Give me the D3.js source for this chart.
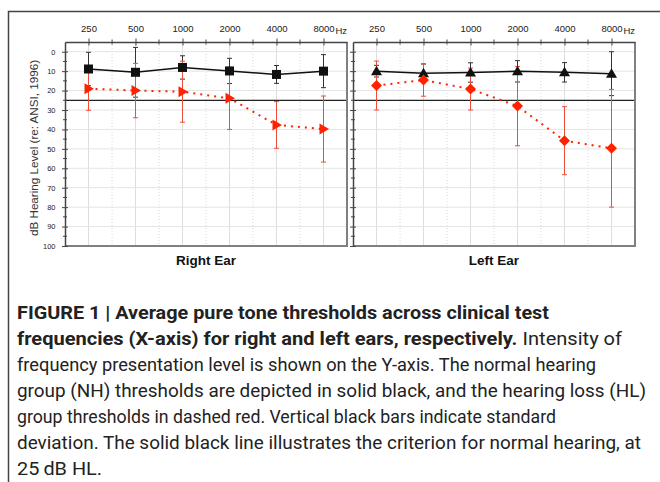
<!DOCTYPE html>
<html>
<head>
<meta charset="utf-8">
<script src="https://cdn.jsdelivr.net/npm/d3@7"></script>
<style>
  html, body { margin: 0; padding: 0; background: #fff; }
  svg { display: block; font-family: "Liberation Sans", Arial, sans-serif; }
</style>
</head>
<body>
<div id="graph"></div>
<script>
// test frequencies (Hz) and dB HL
const freqs = [250, 500, 1000, 2000, 4000, 8000];
const halfOctaves = [354, 707, 1414, 2828, 5657];
const dbTicks = [0, 10, 20, 30, 40, 50, 60, 70, 80, 90, 100];
const dbMinor = [5, 15, 25, 35, 45, 55, 65, 75, 85, 95];
const criterion = 25;

const rightNH = [8.9, 10.6, 8.1, 9.9, 11.7, 10.0];
const rightNHsd = [8.6, 12.8, 6.0, 6.5, 4.6, 8.5];
const rightHL = [19.0, 20.0, 20.6, 24.0, 37.7, 39.8];
const rightHLsd = [11.2, 14.0, 15.7, 16.0, 12.0, 17.0];

const leftNH = [10.0, 11.1, 10.7, 10.1, 10.6, 11.3];
const leftNHsd = [3.0, 4.8, 5.0, 5.5, 5.0, 11.3];
const leftHL = [17.4, 14.6, 19.2, 28.0, 45.8, 49.7];
const leftHLsd = [12.6, 8.3, 10.8, 20.4, 17.5, 30.3];

// caption: each line is a list of [text, bold] segments, plus the line's width
const captionLines = [
  [["FIGURE 1 | Average pure tone thresholds across clinical test", true]],
  [["frequencies (X-axis) for right and left ears, respectively.", true], ["Intensity of", false]],
  [["frequency presentation level is shown on the Y-axis. The normal hearing", false]],
  [["group (NH) thresholds are depicted in solid black, and the hearing loss (HL)", false]],
  [["group thresholds in dashed red. Vertical black bars indicate standard", false]],
  [["deviation. The solid black line illustrates the criterion for normal hearing, at", false]],
  [["25\u2009dB HL.", false]]
];
const captionWidths = [532, 605, 579, 629, 539, 624, 85];

const W = 660, H = 482;
const red = '#ff2200', redBar = '#e8503a', black = '#111';
const axisFont = '"Liberation Sans", Arial, sans-serif';

const svg = d3.select('#graph').append('svg')
  .attr('width', W).attr('height', H);

// outer figure frame (open to the right and bottom)
svg.append('path')
  .attr('d', `M8.5,${H} V11.5 H${W}`)
  .attr('fill', 'none').attr('stroke', '#444').attr('stroke-width', 1.5);

const y = d3.scaleLinear().domain([-5, 100]).range([42, 246]);

const panels = [
  { name: 'Right Ear', x0: 65, x1: 347, nh: rightNH, nhsd: rightNHsd, hl: rightHL, hlsd: rightHLsd, nhShape: 'square', hlShape: 'tri-right', yLabels: true },
  { name: 'Left Ear', x0: 353, x1: 635, nh: leftNH, nhsd: leftNHsd, hl: leftHL, hlsd: leftHLsd, nhShape: 'tri-up', hlShape: 'diamond', yLabels: false }
];

function markerPath(shape) {
  if (shape === 'square') return 'M-4.5,-4.5H4.5V4.5H-4.5Z';
  if (shape === 'tri-up') return 'M0,-5.5L5.5,4L-5.5,4Z';
  if (shape === 'tri-right') return 'M5.5,0L-4,-5.5L-4,5.5Z';
  return 'M0,-5.5L5.5,0L0,5.5L-5.5,0Z';
}

panels.forEach(p => {
  const x = d3.scaleLog().base(2)
    .domain([250 / Math.SQRT2, 8000 * Math.SQRT2])
    .range([p.x0, p.x1]);
  const g = svg.append('g');

  // grid
  g.selectAll('.vgrid').data(freqs).join('line')
    .attr('x1', d => x(d)).attr('x2', d => x(d))
    .attr('y1', y.range()[0]).attr('y2', y.range()[1])
    .attr('stroke', '#dedede').attr('stroke-width', 1);
  g.selectAll('.vminor').data(halfOctaves).join('line')
    .attr('x1', d => x(d)).attr('x2', d => x(d))
    .attr('y1', y.range()[0]).attr('y2', y.range()[1])
    .attr('stroke', '#d8d8d8').attr('stroke-width', 1)
    .attr('stroke-dasharray', '1,2');
  g.selectAll('.hgrid').data(dbTicks).join('line')
    .attr('x1', p.x0).attr('x2', p.x1)
    .attr('y1', d => y(d)).attr('y2', d => y(d))
    .attr('stroke', '#e4e4e4').attr('stroke-width', 1);

  // criterion line
  g.append('line')
    .attr('x1', p.x0).attr('x2', p.x1)
    .attr('y1', y(criterion)).attr('y2', y(criterion))
    .attr('stroke', '#222').attr('stroke-width', 1.2);

  // right / bottom border
  g.append('path')
    .attr('d', `M${p.x1},${y.range()[0]} V${y.range()[1]} H${p.x0}`)
    .attr('fill', 'none').attr('stroke', '#808080').attr('stroke-width', 2);

  // top axis
  const xAxis = g.append('g')
    .attr('transform', `translate(0,${y.range()[0]})`)
    .call(d3.axisTop(x).tickValues(freqs).tickFormat(d3.format('d')).tickSizeOuter(0).tickPadding(4))
    .attr('font-family', axisFont);
  xAxis.select('.domain').attr('stroke', '#444').attr('stroke-width', 1.5);
  xAxis.selectAll('.tick line').attr('y1', -3.5).attr('y2', 3.5).attr('stroke', '#444');
  xAxis.selectAll('.tick text').attr('font-size', 9.5).attr('fill', '#222');
  g.selectAll('.xminor').data(halfOctaves).join('line')
    .attr('x1', d => x(d)).attr('x2', d => x(d))
    .attr('y1', y.range()[0] - 2.5).attr('y2', y.range()[0] + 2.5)
    .attr('stroke', '#444');
  g.append('text')
    .attr('x', x(8000) + 12).attr('y', 34)
    .attr('font-size', 9.5).attr('fill', '#222')
    .text('Hz');

  // left axis
  const yAxis = g.append('g')
    .attr('transform', `translate(${p.x0},0)`)
    .call(d3.axisLeft(y).tickValues(dbTicks).tickSizeOuter(0).tickPadding(3.5)
      .tickFormat(p.yLabels ? d3.format('d') : ''))
    .attr('font-family', axisFont);
  yAxis.select('.domain').attr('stroke', '#444').attr('stroke-width', 1.5);
  yAxis.selectAll('.tick line').attr('x1', -3).attr('x2', 3).attr('stroke', '#444');
  yAxis.selectAll('.tick text').attr('font-size', 7.5).attr('fill', '#222');
  g.selectAll('.yminor').data(dbMinor).join('line')
    .attr('x1', p.x0 - 2).attr('x2', p.x0 + 2)
    .attr('y1', d => y(d)).attr('y2', d => y(d))
    .attr('stroke', '#444');

  // error bars
  function bars(vals, sds, color, width) {
    const b = g.append('g').attr('stroke', color).attr('stroke-width', width);
    freqs.forEach((f, i) => {
      const cx = x(f), lo = y(vals[i] - sds[i]), hi = y(vals[i] + sds[i]);
      b.append('line').attr('x1', cx).attr('x2', cx).attr('y1', lo).attr('y2', hi);
      b.append('line').attr('x1', cx - 2.5).attr('x2', cx + 2.5).attr('y1', lo).attr('y2', lo);
      b.append('line').attr('x1', cx - 2.5).attr('x2', cx + 2.5).attr('y1', hi).attr('y2', hi);
    });
  }
  bars(p.nh, p.nhsd, '#333', 1);
  bars(p.hl, p.hlsd, redBar, 1);

  // lines
  const line = d3.line().x((d, i) => x(freqs[i])).y(d => y(d));
  g.append('path').attr('d', line(p.hl))
    .attr('fill', 'none').attr('stroke', red).attr('stroke-width', 2)
    .attr('stroke-dasharray', '2,5');
  g.append('path').attr('d', line(p.nh))
    .attr('fill', 'none').attr('stroke', black).attr('stroke-width', 1.5);

  // markers
  g.selectAll('.nhm').data(p.nh).join('path')
    .attr('d', markerPath(p.nhShape))
    .attr('transform', (d, i) => `translate(${x(freqs[i])},${y(d)})`)
    .attr('fill', black);
  g.selectAll('.hlm').data(p.hl).join('path')
    .attr('d', markerPath(p.hlShape))
    .attr('transform', (d, i) => `translate(${x(freqs[i])},${y(d)})`)
    .attr('fill', red);

  // panel title
  g.append('text')
    .attr('x', (p.x0 + p.x1) / 2).attr('y', 265)
    .attr('text-anchor', 'middle')
    .attr('font-size', 13.5).attr('font-weight', 'bold').attr('fill', '#111')
    .text(p.name);
});

// y axis title
svg.append('text')
  .attr('transform', 'translate(38,148) rotate(-90)')
  .attr('text-anchor', 'middle')
  .attr('font-size', 10).attr('fill', '#333')
  .attr('textLength', 176).attr('lengthAdjust', 'spacingAndGlyphs')
  .text('dB Hearing Level (re: ANSI, 1996)');

// caption: segments laid out one after another, whole line squeezed to its width
captionLines.forEach((segs, i) => {
  const yPos = 319 + i * 26;
  const nodes = segs.map(s => svg.append('text')
    .attr('y', yPos)
    .attr('font-family', 'Roboto, "Liberation Sans", sans-serif')
    .attr('font-size', 18.5).attr('fill', '#222')
    .attr('font-weight', s[1] ? 'bold' : 'normal')
    .text(s[0]));
  const gap = 5;
  const natural = nodes.map(n => n.node().getComputedTextLength());
  const total = d3.sum(natural) + gap * (nodes.length - 1);
  const k = captionWidths[i] / total;
  let xPos = 17;
  nodes.forEach((n, j) => {
    const len = natural[j] * k;
    n.attr('x', xPos).attr('textLength', len).attr('lengthAdjust', 'spacingAndGlyphs');
    xPos += len + gap * k;
  });
});
</script>
</body>
</html>
